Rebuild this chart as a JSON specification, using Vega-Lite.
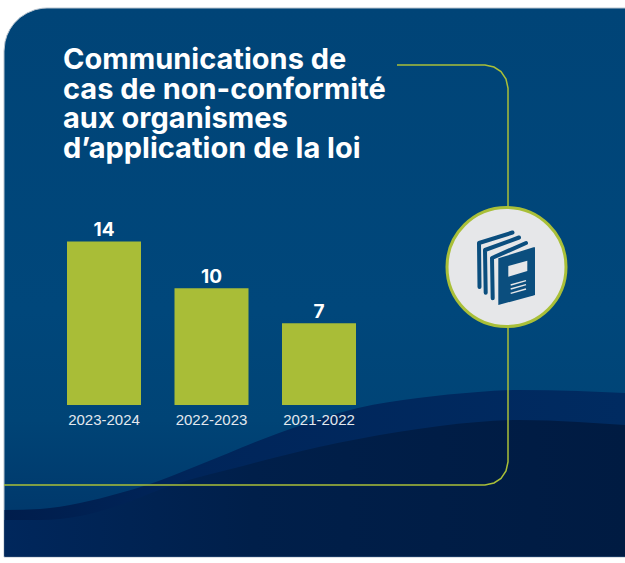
{
"$schema":"https://vega.github.io/schema/vega-lite/v6.json",
"width":625,"height":563,"autosize":"none","padding":0,"background":"#ffffff",
"view":{"stroke":null},
"title":{"text":["Communications de","cas de non-conformité","aux organismes","d’application de la loi"],"anchor":"start","frame":"group","orient":"top","offset":-187,"dx":63,"baseline":"alphabetic","lineHeight":29.7,"fontSize":29,"font":"Inter","fontWeight":"bold","color":"#ffffff"},
"datasets":{
"bars":[{"periode":"2023-2024","n":14},{"periode":"2022-2023","n":10},{"periode":"2021-2022","n":7}],
"panel":[{"x":4,"y":51},{"x":5,"y":41.8},{"x":7,"y":35.2},{"x":10,"y":29.1},{"x":14,"y":23.4},{"x":20,"y":17.5},{"x":27,"y":13},{"x":35,"y":9.7},{"x":42,"y":8.3},{"x":47,"y":8},{"x":627,"y":8}],
"wave1":[{"x":4.5,"y":510},{"x":40,"y":509},{"x":80,"y":503},{"x":120,"y":493},{"x":147,"y":485},{"x":199,"y":465},{"x":279,"y":433},{"x":358,"y":408},{"x":418,"y":398},{"x":478,"y":392},{"x":518,"y":390},{"x":578,"y":391},{"x":625,"y":393}],
"wave2":[{"x":4.5,"y":520},{"x":40,"y":520},{"x":80,"y":516},{"x":120,"y":505},{"x":159,"y":490},{"x":179,"y":483},{"x":239,"y":467},{"x":319,"y":447},{"x":398,"y":432},{"x":478,"y":422},{"x":518,"y":420},{"x":578,"y":422},{"x":625,"y":425}],
"frame":[{"s":1,"x":397,"y":65},{"s":2,"x":485,"y":65},{"s":3,"x":494,"y":67},{"s":4,"x":501,"y":71.5},{"s":5,"x":506,"y":79},{"s":6,"x":508,"y":88},{"s":7,"x":508,"y":462},{"s":8,"x":506,"y":471},{"s":9,"x":501,"y":478.5},{"s":10,"x":494,"y":483},{"s":11,"x":485,"y":485},{"s":12,"x":4,"y":485}],
"badge":[{"x":506.5,"y":267}],
"spines":[{"b":"a","s":1,"x":479.5,"y":287},{"b":"a","s":2,"x":479,"y":243},{"b":"a","s":3,"x":512.5,"y":232.5},
{"b":"b","s":1,"x":485.7,"y":292.7},{"b":"b","s":2,"x":485,"y":250},{"b":"b","s":3,"x":519,"y":237.5},
{"b":"c","s":1,"x":492.7,"y":298.3},{"b":"c","s":2,"x":492,"y":258},{"b":"c","s":3,"x":526,"y":243}],
"cover":[{"x":498.3,"y":258.3,"y2":305},{"x":533.5,"y":247.3,"y2":295.5},{"x":535,"y":247.3,"y2":295}],
"label":[{"x":508.3,"y":266,"y2":276.7},{"x":527.3,"y":260.7,"y2":271}],
"rules":[{"b":"a","x":510.7,"y":285},{"b":"a","x":526,"y":280.7},{"b":"b","x":510.7,"y":289},{"b":"b","x":526,"y":284.7},{"b":"c","x":510.7,"y":293.3},{"b":"c","x":526,"y":289}]
},
"data":{"name":"bars"},
"resolve":{"scale":{"x":"independent","y":"independent"},"axis":{"x":"independent","y":"independent"}},
"layer":[
{"data":{"name":"panel"},"mark":{"type":"area","stroke":"#b9c4cf","strokeWidth":1,"fill":{"gradient":"linear","x1":0,"y1":0,"x2":0,"y2":1,"stops":[{"offset":0,"color":"#004477"},{"offset":0.55,"color":"#00477b"},{"offset":0.75,"color":"#004476"},{"offset":1,"color":"#003367"}]}},
 "encoding":{"x":{"field":"x","type":"quantitative","axis":null,"scale":{"domain":[0,625],"range":[0,625]}},"y":{"field":"y","type":"quantitative","axis":null,"scale":{"domain":[0,563],"range":[0,563]}},"y2":{"datum":557}}},
{"data":{"name":"wave1"},"mark":{"type":"area","interpolate":"monotone","fill":{"gradient":"linear","x1":0,"y1":0,"x2":1,"y2":0,"stops":[{"offset":0,"color":"#001d4c"},{"offset":0.3,"color":"#00255a"},{"offset":1,"color":"#002b61"}]}},
 "encoding":{"x":{"field":"x","type":"quantitative","axis":null,"scale":{"domain":[0,625],"range":[0,625]}},"y":{"field":"y","type":"quantitative","axis":null,"scale":{"domain":[0,563],"range":[0,563]}},"y2":{"datum":556.5}}},
{"data":{"name":"wave2"},"mark":{"type":"area","interpolate":"monotone","fill":{"gradient":"linear","x1":0,"y1":0,"x2":1,"y2":0,"stops":[{"offset":0,"color":"#00275c"},{"offset":0.4,"color":"#001f4a"},{"offset":1,"color":"#001b42"}]}},
 "encoding":{"x":{"field":"x","type":"quantitative","axis":null,"scale":{"domain":[0,625],"range":[0,625]}},"y":{"field":"y","type":"quantitative","axis":null,"scale":{"domain":[0,563],"range":[0,563]}},"y2":{"datum":556.5}}},
{"data":{"name":"frame"},"mark":{"type":"line","stroke":"#a9bf38","strokeWidth":1.5},
 "encoding":{"x":{"field":"x","type":"quantitative","axis":null,"scale":{"domain":[0,625],"range":[0,625]}},"y":{"field":"y","type":"quantitative","axis":null,"scale":{"domain":[0,563],"range":[0,563]}},"order":{"field":"s"}}},
{"data":{"name":"badge"},"mark":{"type":"point","shape":"circle","size":14161,"filled":true,"fill":"#e6e7e9","stroke":"#a9bf38","strokeWidth":3,"opacity":1},
 "encoding":{"x":{"field":"x","type":"quantitative","axis":null,"scale":{"domain":[0,625],"range":[0,625]}},"y":{"field":"y","type":"quantitative","axis":null,"scale":{"domain":[0,563],"range":[0,563]}}}},
{"data":{"name":"spines"},"mark":{"type":"line","stroke":"#0b4e7e","strokeWidth":4,"strokeCap":"round","strokeJoin":"round"},
 "encoding":{"x":{"field":"x","type":"quantitative","axis":null,"scale":{"domain":[0,625],"range":[0,625]}},"y":{"field":"y","type":"quantitative","axis":null,"scale":{"domain":[0,563],"range":[0,563]}},"detail":{"field":"b"},"order":{"field":"s"}}},
{"data":{"name":"cover"},"mark":{"type":"area","fill":"#0b4e7e"},
 "encoding":{"x":{"field":"x","type":"quantitative","axis":null,"scale":{"domain":[0,625],"range":[0,625]}},"y":{"field":"y","type":"quantitative","axis":null,"scale":{"domain":[0,563],"range":[0,563]}},"y2":{"field":"y2"}}},
{"data":{"name":"label"},"mark":{"type":"area","fill":"#e6e7e9"},
 "encoding":{"x":{"field":"x","type":"quantitative","axis":null,"scale":{"domain":[0,625],"range":[0,625]}},"y":{"field":"y","type":"quantitative","axis":null,"scale":{"domain":[0,563],"range":[0,563]}},"y2":{"field":"y2"}}},
{"data":{"name":"rules"},"mark":{"type":"line","stroke":"#e6e7e9","strokeWidth":1.4},
 "encoding":{"x":{"field":"x","type":"quantitative","axis":null,"scale":{"domain":[0,625],"range":[0,625]}},"y":{"field":"y","type":"quantitative","axis":null,"scale":{"domain":[0,563],"range":[0,563]}},"detail":{"field":"b"}}},
{"mark":{"type":"bar","fill":"#a9bd37"},
 "encoding":{"x":{"field":"periode","type":"nominal","sort":null,"scale":{"type":"band","range":[67,356],"paddingInner":0.3116,"paddingOuter":0},
   "axis":{"title":null,"orient":"bottom","offset":-158,"zindex":1,"domain":false,"ticks":false,"labelAngle":0,"labelPadding":7,"labelFontSize":15,"labelFont":"Liberation Sans","labelColor":"#e3e8ee"}},
  "y":{"field":"n","type":"quantitative","axis":null,"scale":{"domain":[0,14],"range":[405,241.5]}}}},
{"mark":{"type":"text","color":"#ffffff","font":"Inter","fontWeight":"bold","fontSize":19,"baseline":"alphabetic","dy":-5.5},
 "encoding":{"x":{"field":"periode","type":"nominal","sort":null,"axis":null,"scale":{"type":"band","range":[67,356],"paddingInner":0.3116,"paddingOuter":0}},
  "y":{"field":"n","type":"quantitative","axis":null,"scale":{"domain":[0,14],"range":[405,241.5]}},"text":{"field":"n","type":"quantitative"}}}
]
}
